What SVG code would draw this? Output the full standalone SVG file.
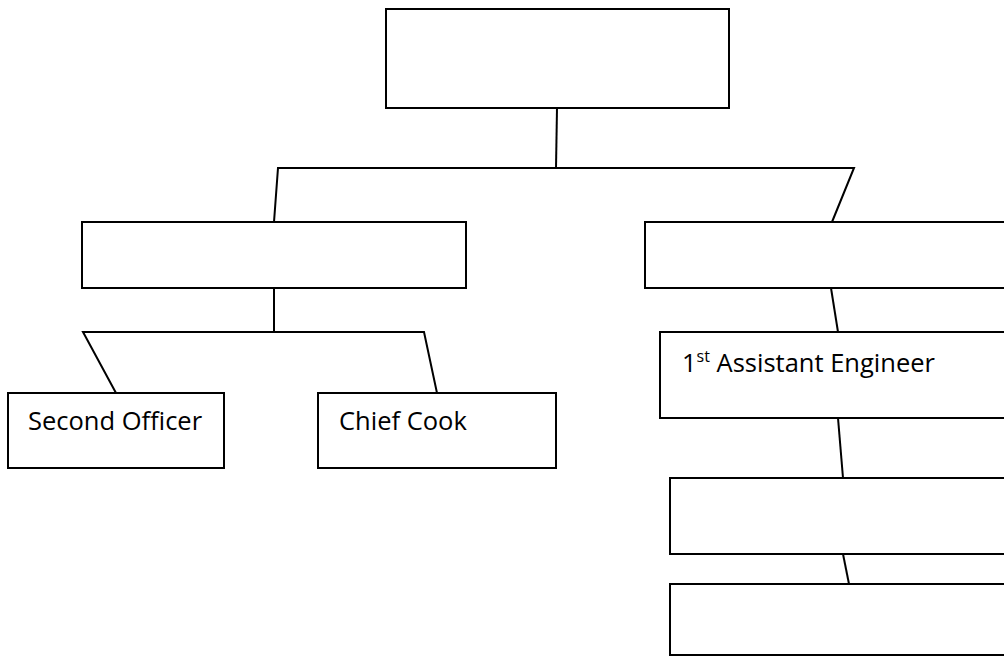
<svg xmlns="http://www.w3.org/2000/svg" width="1004" height="656" viewBox="0 0 1004 656">
<style>
.box{fill:#fff;stroke:#000;stroke-width:2}
.ln{fill:none;stroke:#000;stroke-width:2}
.t{font-family:"Open Sans","Liberation Sans",sans-serif;font-size:25.5px;fill:#000}
</style>
<rect width="1004" height="656" fill="#fff"/>
<g id="connectors">
<line class="ln" x1="557" y1="108" x2="556" y2="168"/>
<polyline class="ln" points="274,222 278,168 854,168 832,222"/>
<line class="ln" x1="274" y1="288" x2="274" y2="332"/>
<polyline class="ln" points="116,393 83,332 424,332 437,393"/>
<line class="ln" x1="831" y1="288" x2="838" y2="332"/>
<line class="ln" x1="838" y1="418" x2="843" y2="478"/>
<line class="ln" x1="843" y1="554" x2="849" y2="584"/>
</g>
<g id="top"><rect class="box" x="386" y="9" width="343" height="99"/></g>
<g id="left-mid"><rect class="box" x="82" y="222" width="384" height="66"/></g>
<g id="right-mid"><rect class="box" x="645" y="222" width="380" height="66"/></g>
<g id="second-officer"><rect class="box" x="8" y="393" width="216" height="75"/><text class="t" x="28" y="430">Second Officer</text></g>
<g id="chief-cook"><rect class="box" x="318" y="393" width="238" height="75"/><text class="t" x="339" y="430">Chief Cook</text></g>
<g id="asst-engineer"><rect class="box" x="660" y="332" width="360" height="86"/><text class="t" x="682" y="372">1<tspan font-size="16" dy="-10">st</tspan><tspan dy="10"> Assistant Engineer</tspan></text></g>
<g id="box4"><rect class="box" x="670" y="478" width="360" height="76"/></g>
<g id="box5"><rect class="box" x="670" y="584" width="360" height="71"/></g>
</svg>
